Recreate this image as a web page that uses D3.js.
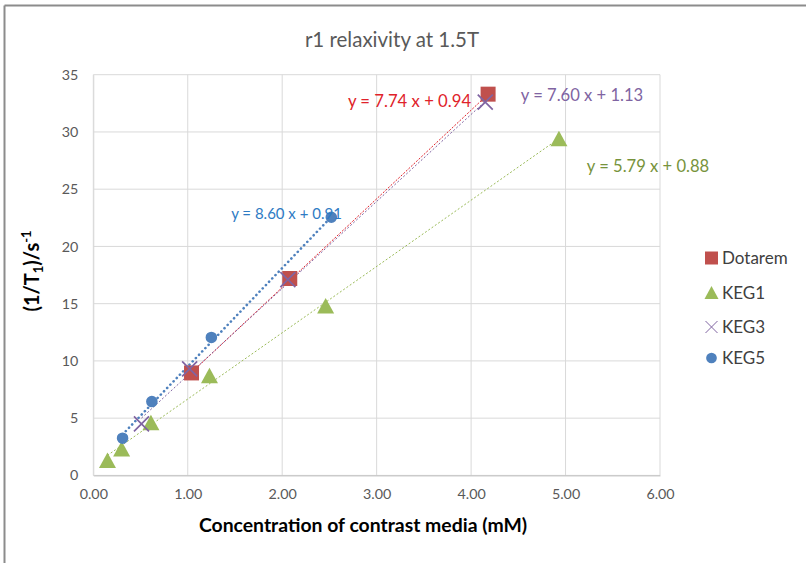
<!DOCTYPE html>
<html lang="en">
<head>
<meta charset="UTF-8">
<title>r1 relaxivity</title>
<script src="https://cdn.jsdelivr.net/npm/d3@7"></script>
<style>
  body { margin: 0; background: #fff; }
  text { font-family: Lato, "Open Sans", sans-serif; }
</style>
</head>
<body>
<svg></svg>
<script>
// data
var seriesNames = ['Dotarem', 'KEG1', 'KEG3', 'KEG5'];
var dotaremX = [1.04, 2.08, 4.18];
var dotaremY = [8.95, 17.2, 33.3];
var keg1X = [0.15, 0.30, 0.61, 1.23, 2.46, 4.93];
var keg1Y = [1.3, 2.3, 4.6, 8.7, 14.8, 29.4];
var keg3X = [0.51, 1.02, 2.06, 4.15];
var keg3Y = [4.5, 9.3, 17.1, 32.6];
var keg5X = [0.31, 0.62, 1.25, 2.52];
var keg5Y = [3.25, 6.45, 12.05, 22.55];
var slopes = [7.74, 5.79, 7.60, 8.60];
var intercepts = [0.94, 0.88, 1.13, 0.91];
var xTicks = [0, 1, 2, 3, 4, 5, 6];
var yTicks = [0, 5, 10, 15, 20, 25, 30, 35];

var W = 806, H = 563;
var svg = d3.select('svg').attr('width', W).attr('height', H);

var x = d3.scaleLinear().domain([0, 6]).range([93.3, 660]);
var y = d3.scaleLinear().domain([0, 35]).range([475.4, 74.7]);

var colors = ['#C0504D', '#9BBB59', '#8064A2', '#4F81BD'];
var labelColors = ['#E0222A', '#77933C', '#8064A2', '#2E7BC4'];

// frame (top + left edge only)
svg.append('line').attr('x1', 4.5).attr('x2', W).attr('y1', 5.5).attr('y2', 5.5)
	.attr('stroke', '#8c8c8c').attr('stroke-width', 2);
svg.append('line').attr('x1', 4.5).attr('x2', 4.5).attr('y1', 5.5).attr('y2', H)
	.attr('stroke', '#8c8c8c').attr('stroke-width', 2);

// title
svg.append('text').attr('x', 392).attr('y', 47).attr('text-anchor', 'middle')
	.attr('font-size', 20.5).attr('fill', '#595959').text('r1 relaxivity at 1.5T');

// grid
svg.append('g').selectAll('line').data(yTicks).enter().append('line')
	.attr('x1', x(0)).attr('x2', x(6))
	.attr('y1', function(d) { return y(d); }).attr('y2', function(d) { return y(d); })
	.attr('stroke', '#d9d9d9').attr('stroke-width', 1);
svg.append('g').selectAll('line').data(xTicks).enter().append('line')
	.attr('y1', y(0)).attr('y2', y(35))
	.attr('x1', function(d) { return x(d); }).attr('x2', function(d) { return x(d); })
	.attr('stroke', '#d9d9d9').attr('stroke-width', 1);

// axes
var xAxis = svg.append('g')
	.attr('transform', 'translate(0,' + y(0) + ')')
	.call(d3.axisBottom(x).tickValues(xTicks).tickFormat(d3.format('.2f')).tickSize(0).tickPadding(13));
xAxis.select('.domain').attr('stroke', '#bfbfbf');
xAxis.selectAll('text').attr('font-size', 14.3).attr('fill', '#595959');

var yAxis = svg.append('g')
	.attr('transform', 'translate(' + x(0) + ',0)')
	.call(d3.axisLeft(y).tickValues(yTicks).tickSize(0).tickPadding(15));
yAxis.select('.domain').attr('stroke', '#d9d9d9');
yAxis.selectAll('text').attr('font-size', 14.3).attr('fill', '#595959');

// axis titles
svg.append('text').attr('x', 363).attr('y', 532).attr('text-anchor', 'middle')
	.attr('font-size', 19.4).attr('font-weight', 'bold').attr('fill', '#000')
	.text('Concentration of contrast media (mM)');

var yt = svg.append('text').attr('transform', 'translate(39,271) rotate(-90)')
	.attr('text-anchor', 'middle').attr('font-size', 20).attr('font-weight', 'bold').attr('fill', '#000');
yt.append('tspan').text('(1/T');
yt.append('tspan').attr('font-size', 13).attr('dy', 4).text('1');
yt.append('tspan').attr('dy', -4).text(')/s');
yt.append('tspan').attr('font-size', 13).attr('dy', -8).text('-1');

// trendlines
var xs = [dotaremX, keg1X, keg3X, keg5X];
var ys = [dotaremY, keg1Y, keg3Y, keg5Y];
var dashes = ['2 1.5', '2 2', '2 2', '0.1 4.5'];
var widths = [1, 1, 1, 2.6];
for (var i = 0; i < 4; i++) {
	var x0 = d3.min(xs[i]), x1 = d3.max(xs[i]);
	svg.append('line')
		.attr('x1', x(x0)).attr('y1', y(slopes[i] * x0 + intercepts[i]))
		.attr('x2', x(x1)).attr('y2', y(slopes[i] * x1 + intercepts[i]))
		.attr('stroke', i == 0 ? '#E0222A' : colors[i])
		.attr('stroke-width', widths[i])
		.attr('stroke-dasharray', dashes[i])
		.attr('stroke-linecap', i == 3 ? 'round' : 'butt');
}

// markers
var sym = [d3.symbolSquare, d3.symbolTriangle, d3.symbolX, d3.symbolCircle];
var sizes = [225, 150, 90, 105];
function drawMarker(g, i, s) {
	if (i == 2) {
		var h = 7.5;
		g.append('path').attr('d', 'M' + (-h) + ',' + (-h) + 'L' + h + ',' + h + 'M' + (-h) + ',' + h + 'L' + h + ',' + (-h))
			.attr('stroke', colors[2]).attr('stroke-width', 1.7).attr('fill', 'none');
	} else if (i == 1) {
		var w = 8.5;
		g.append('path').attr('d', 'M0,' + (-8) + 'L' + w + ',7.5L' + (-w) + ',7.5Z').attr('fill', colors[1]);
	} else {
		g.append('path').attr('d', d3.symbol().type(sym[i]).size(s)).attr('fill', colors[i]);
	}
}
for (var i = 0; i < 4; i++) {
	var pts = d3.zip(xs[i], ys[i]);
	svg.append('g').selectAll('g').data(pts).enter().append('g')
		.attr('transform', function(d) { return 'translate(' + x(d[0]) + ',' + y(d[1]) + ')'; })
		.each(function() { drawMarker(d3.select(this), i, sizes[i]); });
}

// equation labels
var labelPos = [[409.5, 107, 16.7], [648, 171.5, 16.6], [582, 101, 16.6], [286.5, 218.5, 15]];
for (var i = 0; i < 4; i++) {
	svg.append('text').attr('x', labelPos[i][0]).attr('y', labelPos[i][1])
		.attr('text-anchor', 'middle').attr('font-size', labelPos[i][2])
		.attr('fill', labelColors[i])
		.text('y = ' + slopes[i].toFixed(2) + ' x + ' + intercepts[i].toFixed(2));
}

// legend
var legendY = [258, 293, 327, 358];
for (var i = 0; i < 4; i++) {
	var lg = svg.append('g').attr('transform', 'translate(711.5,' + legendY[i] + ')');
	if (i == 1) {
		lg.append('path').attr('d', 'M0,-7L7,6L-7,6Z').attr('fill', colors[1]);
	} else if (i == 2) {
		lg.append('path').attr('d', 'M-6,-6L6,6M-6,6L6,-6').attr('stroke', colors[2]).attr('stroke-width', 1).attr('fill', 'none');
	} else {
		lg.append('path').attr('d', d3.symbol().type(sym[i]).size(i == 0 ? 169 : 90)).attr('fill', colors[i]);
	}
	svg.append('text').attr('x', 722).attr('y', legendY[i] + 6)
		.attr('font-size', 17).attr('fill', '#404040').text(seriesNames[i]);
}
</script>
</body>
</html>
